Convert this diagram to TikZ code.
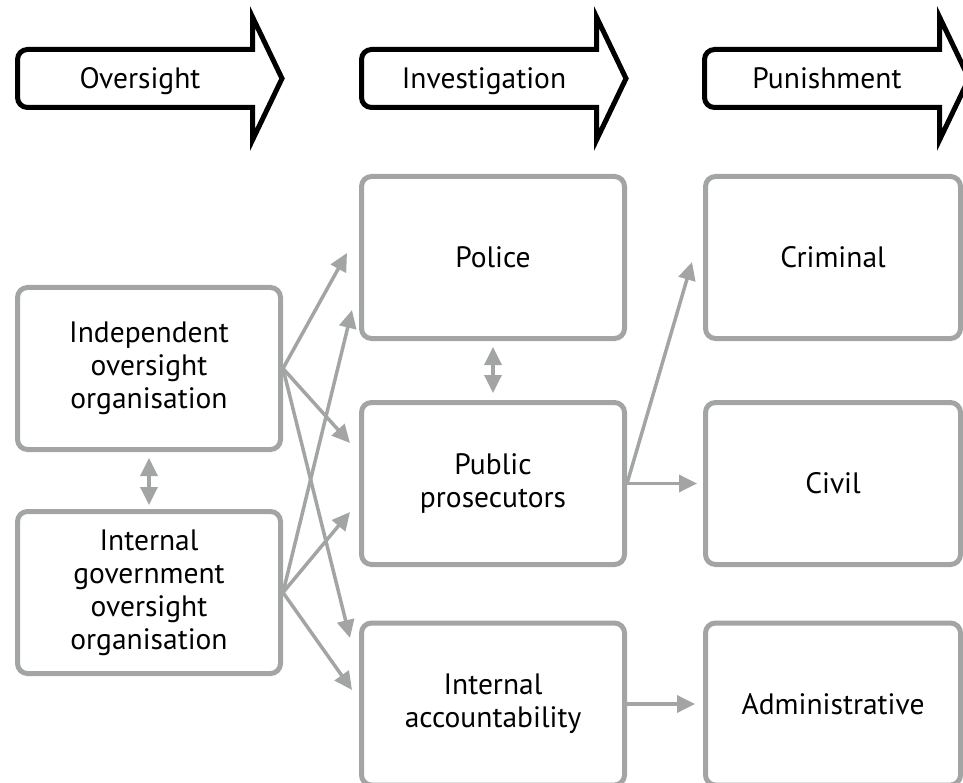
\documentclass[tikz,border=0pt]{standalone}
\usepackage{fontspec}
\setmainfont{PT Sans}
\usetikzlibrary{arrows.meta}
\definecolor{boxgray}{RGB}{163,165,165}
\tikzset{>={Triangle[length=18pt,width=17pt]}}
\tikzset{
  box/.style={draw=boxgray, line width=5pt, rounded corners=10pt,
    minimum width=263pt, minimum height=162pt, inner sep=0pt, align=center,
    font=\fontsize{29.5}{33}\selectfont},
  rbox/.style={box, minimum width=255pt},
  link/.style={draw=boxgray, line width=3.5pt},
  hdr/.style={draw=black, line width=5pt, line join=miter},
  hdrtext/.style={anchor=base, inner sep=0pt, font=\fontsize{29.5}{33}\selectfont}
}

\begin{document}
\begin{tikzpicture}[x=1pt, y=1pt]
                \useasboundingbox (0,0) rectangle (963,-783);
                \clip (0,0) rectangle (963,-783);
                % stage arrows along the top
                \foreach \dx/\nm/\txt in {0/over/Oversight, 344/inv/Investigation, 687/pun/Punishment}{
                    \draw[hdr, xshift=\dx] (27.5,-49.5) -- (252.5,-49.5) -- (252.5,-17) -- (282,-78.5)
                        -- (252.5,-140) -- (252.5,-107.5) -- (27.5,-107.5)
                        arc[start angle=270, end angle=180, radius=10] -- (17.5,-59.5)
                        arc[start angle=180, end angle=90, radius=10] -- cycle;
                    \node[hdrtext] (\nm) at (140+\dx,-89) {\txt};
                }
                \node[box] (ind) at (149,-368.5) {Independent\\oversight\\organisation};
                \node[box] (gov) at (149,-592.5) {Internal\\government\\oversight\\organisation};
                \node[box] (pol) at (493,-257.5) {Police};
                \node[box] (pros) at (493,-483.5) {Public\\prosecutors};
                \node[box] (ia) at (493,-704) {Internal\\accountability};
                \node[rbox] (crim) at (833,-257.5) {Criminal};
                \node[rbox] (civ) at (833,-483.5) {Civil};
                \node[rbox] (adm) at (833,-704) {Administrative};
                \draw[link, <->] ([yshift=-6pt]ind.south) -- ([yshift=4pt]gov.north);
                \draw[link, <->] ([yshift=-6pt]pol.south) -- ([yshift=7pt]pros.north);
                \draw[link, ->] (ind.east) -- ([xshift=-12pt,yshift=4.5pt]pol.west);
                \draw[link, ->] (ind.east) -- ([xshift=-9pt,yshift=40.5pt]pros.west);
                \draw[link, ->] (ind.east) -- ([xshift=-9pt,yshift=66pt]ia.west);
                \draw[link, ->] (gov.east) -- ([xshift=-7pt,yshift=-52.5pt]pol.west);
                \draw[link, ->] (gov.east) -- ([xshift=-9pt,yshift=-28.5pt]pros.west);
                \draw[link, ->] (gov.east) -- ([xshift=-7pt,yshift=14pt]ia.west);
                \draw[link, ->] (pros.east) -- ([xshift=-11pt,yshift=-4.5pt]crim.west);
                \draw[link, ->] (pros.east) -- ([xshift=-6pt]civ.west);
                \draw[link, ->] (ia.east) -- ([xshift=-8pt]adm.west);
            \end{tikzpicture}
\end{document}
